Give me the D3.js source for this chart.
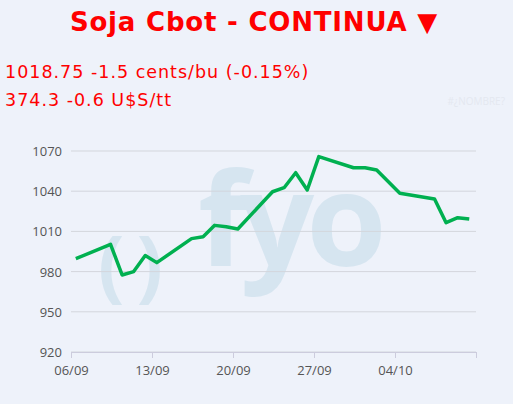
<!DOCTYPE html><html><head><meta charset="utf-8"><script src="https://cdn.jsdelivr.net/npm/d3@7"></script>
<style>body{margin:0;background:#eef2fa}</style></head><body><svg id="c" width="513" height="404"></svg><script>
const dates=["2021-09-06","2021-09-09","2021-09-10","2021-09-11","2021-09-12","2021-09-13","2021-09-16","2021-09-17","2021-09-18","2021-09-19","2021-09-20","2021-09-23","2021-09-24","2021-09-25","2021-09-26","2021-09-27","2021-09-30","2021-10-01","2021-10-02","2021-10-04","2021-10-07","2021-10-08","2021-10-09","2021-10-10"];
const values=[989.6,1000.4,977.5,980,992,986.7,1004.6,1006,1014.5,1013.5,1011.8,1039.6,1042.6,1053.8,1040.9,1065.8,1057.5,1057.5,1055.8,1038.4,1034.2,1016.5,1020.2,1019.2];
const yTicks=[920,950,980,1010,1040,1070];
const xTicks=["2021-09-06","2021-09-13","2021-09-20","2021-09-27","2021-10-04","2021-10-11"];
const svg=d3.select("#c");
svg.append("rect").attr("width",513).attr("height",404).attr("fill","#eef2fa");
const p=d3.timeParse("%Y-%m-%dT%H");
const x=d3.scaleTime().domain([p("2021-09-06T00"),p("2021-10-11T00")]).range([71,476]);
const y=d3.scaleLinear().domain([920,1070]).range([352,151]);
svg.append("text").attr("x",98).attr("y",292).attr("font-family","Open Sans").attr("font-weight","bold").attr("font-size",78).attr("fill","#d6e5f0").attr("letter-spacing",12).text("()");
svg.append("text").attr("x",198).attr("y",266).attr("font-family","Open Sans").attr("font-weight","bold").attr("font-size",130).attr("fill","#d6e5f0").attr("letter-spacing",-8).text("fyo");
svg.append("g").selectAll("line").data(yTicks).join("line").attr("x1",71).attr("x2",476).attr("y1",d=>y(d)).attr("y2",d=>y(d)).attr("stroke","#d3d6dc");
svg.append("g").selectAll("text").data(yTicks).join("text").attr("x",62).attr("y",d=>y(d)+5).attr("text-anchor","end").attr("font-family","Open Sans").attr("font-size",13).attr("fill","#555").text(d=>d);
const ax=svg.append("g").attr("transform","translate(0,352)").call(d3.axisBottom(x).tickValues(xTicks.map(d=>p(d+"T00"))).tickFormat((d,i)=>i<5?d3.timeFormat("%d/%m")(d):"").tickSizeOuter(0).tickSize(6));
ax.select(".domain").attr("stroke","#ccd");ax.selectAll(".tick line").attr("stroke","#ccd");
ax.selectAll("text").attr("font-family","Open Sans").attr("font-size",13).attr("fill","#555").attr("dy","1.1em");
svg.append("path").datum(dates.map((d,i)=>[p(d+"T10"),values[i]])).attr("fill","none").attr("stroke","#00b050").attr("stroke-width",3.5).attr("stroke-linejoin","round")
 .attr("d",d3.line().x(d=>x(d[0])).y(d=>y(d[1])));
svg.append("text").attr("x",254).attr("y",31).attr("text-anchor","middle").attr("font-family","DejaVu Sans").attr("font-weight","bold").attr("font-size",26).attr("letter-spacing",0.8).attr("fill","#ff0000").text("Soja Cbot - CONTINUA ▼");
svg.append("text").attr("x",5).attr("y",78).attr("font-family","DejaVu Sans").attr("font-size",17.5).attr("letter-spacing",1).attr("fill","#ff0000").text("1018.75 -1.5 cents/bu (-0.15%)");
svg.append("text").attr("x",5).attr("y",106).attr("font-family","DejaVu Sans").attr("font-size",17.5).attr("letter-spacing",1).attr("fill","#ff0000").text("374.3 -0.6 U$S/tt");
svg.append("text").attr("x",505).attr("y",105).attr("text-anchor","end").attr("font-family","Open Sans").attr("font-size",10).attr("fill","#e4e8f0").text("#¿NOMBRE?");
</script></body></html>
